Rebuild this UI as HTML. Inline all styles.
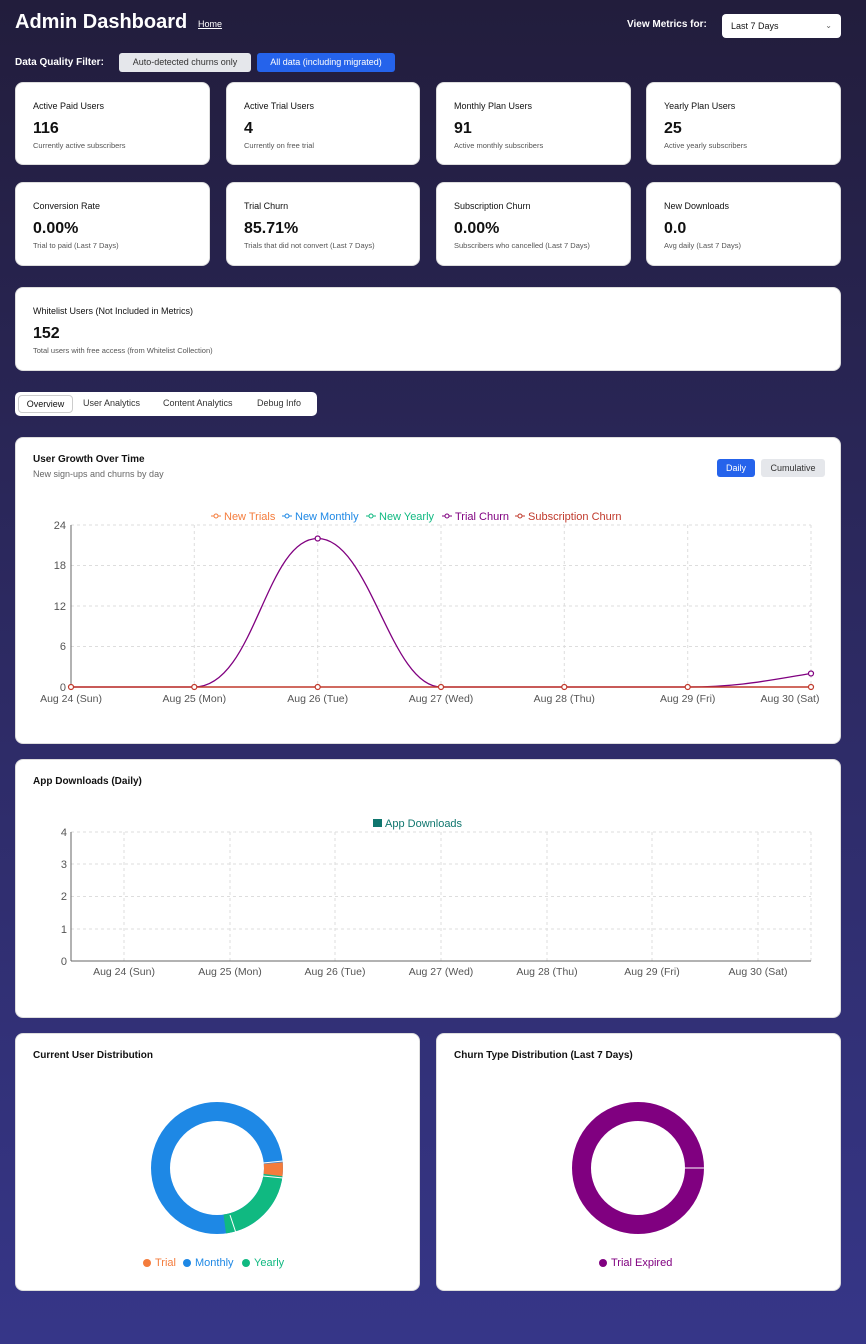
<!DOCTYPE html>
<html><head><style>
*{box-sizing:border-box;margin:0;padding:0}
body{width:866px;height:1344px;background:linear-gradient(#221d3c,#2c2960 45%,#363688);font-family:"Liberation Sans",sans-serif;position:relative;overflow:hidden;color:#111}
.a{position:absolute}
.card{position:absolute;background:#fff;border-radius:8px;border:1px solid #ddd}
.t{font-size:9px;position:absolute;left:17px;top:18px}
.v{font-size:16px;font-weight:bold;position:absolute;left:17px;top:37px}
.s{font-size:7.5px;color:#555;position:absolute;left:17px;top:58px}
.h{font-size:10px;font-weight:bold;position:absolute;left:17px;top:16px}
</style></head><body>
<div class="a" style="left:15px;top:11px;font-size:20px;font-weight:bold;color:#fff">Admin Dashboard</div>
<div class="a" style="left:198px;top:19px;font-size:9px;color:#fff;text-decoration:underline">Home</div>
<div class="a" style="left:627px;top:19px;font-size:10px;color:#fff;font-weight:bold">View Metrics for:</div>
<div class="a" style="left:722px;top:14px;width:119px;height:24px;background:#fff;border-radius:4px;font-size:9px;padding:7px 9px">Last 7 Days<span style="float:right;color:#666;font-size:8px">⌄</span></div>
<div class="a" style="left:15px;top:57px;font-size:10px;color:#fff;font-weight:bold">Data Quality Filter:</div>
<div class="a" style="left:119px;top:53px;width:132px;height:19px;background:#e5e7eb;border-radius:3px;font-size:9px;color:#333;text-align:center;line-height:19px">Auto-detected churns only</div>
<div class="a" style="left:257px;top:53px;width:138px;height:19px;background:#2563eb;border-radius:3px;font-size:9px;color:#fff;text-align:center;line-height:19px">All data (including migrated)</div>

<div class="card" style="left:15px;top:82px;width:195px;height:83px"><div class="t">Active Paid Users</div><div class="v">116</div><div class="s">Currently active subscribers</div></div>
<div class="card" style="left:226px;top:82px;width:194px;height:83px"><div class="t">Active Trial Users</div><div class="v">4</div><div class="s">Currently on free trial</div></div>
<div class="card" style="left:436px;top:82px;width:195px;height:83px"><div class="t">Monthly Plan Users</div><div class="v">91</div><div class="s">Active monthly subscribers</div></div>
<div class="card" style="left:646px;top:82px;width:195px;height:83px"><div class="t">Yearly Plan Users</div><div class="v">25</div><div class="s">Active yearly subscribers</div></div>
<div class="card" style="left:15px;top:182px;width:195px;height:84px"><div class="t">Conversion Rate</div><div class="v">0.00%</div><div class="s">Trial to paid (Last 7 Days)</div></div>
<div class="card" style="left:226px;top:182px;width:194px;height:84px"><div class="t">Trial Churn</div><div class="v">85.71%</div><div class="s">Trials that did not convert (Last 7 Days)</div></div>
<div class="card" style="left:436px;top:182px;width:195px;height:84px"><div class="t">Subscription Churn</div><div class="v">0.00%</div><div class="s">Subscribers who cancelled (Last 7 Days)</div></div>
<div class="card" style="left:646px;top:182px;width:195px;height:84px"><div class="t">New Downloads</div><div class="v">0.0</div><div class="s">Avg daily (Last 7 Days)</div></div>
<div class="card" style="left:15px;top:287px;width:826px;height:84px"><div class="t">Whitelist Users (Not Included in Metrics)</div><div class="v">152</div><div class="s">Total users with free access (from Whitelist Collection)</div></div>

<div class="a" style="left:15px;top:392px;width:302px;height:24px;background:#fff;border-radius:5px;font-size:9px">
<div class="a" style="left:3px;top:3px;width:55px;height:18px;border:1px solid #ccc;border-radius:4px;text-align:center;line-height:16px">Overview</div>
<div class="a" style="left:68px;top:6px;color:#333">User Analytics</div>
<div class="a" style="left:148px;top:6px;color:#333">Content Analytics</div>
<div class="a" style="left:242px;top:6px;color:#333">Debug Info</div></div>

<div class="card" style="left:15px;top:437px;width:826px;height:307px">
<div class="h">User Growth Over Time</div><div class="a" style="left:17px;top:31px;font-size:9px;color:#666">New sign-ups and churns by day</div>
<div class="a" style="left:701px;top:21px;width:38px;height:18px;background:#2563eb;color:#fff;font-size:9px;border-radius:3px;text-align:center;line-height:18px">Daily</div>
<div class="a" style="left:745px;top:21px;width:64px;height:18px;background:#e5e7eb;color:#333;font-size:9px;border-radius:3px;text-align:center;line-height:18px">Cumulative</div>
</div>
<div class="card" style="left:15px;top:759px;width:826px;height:259px"><div class="h">App Downloads (Daily)</div></div>
<div class="card" style="left:15px;top:1033px;width:405px;height:258px"><div class="h">Current User Distribution</div></div>
<div class="card" style="left:436px;top:1033px;width:405px;height:258px"><div class="h">Churn Type Distribution (Last 7 Days)</div></div>

<svg class="a" style="left:0;top:0" width="866" height="1344" font-family="Liberation Sans, sans-serif">
<g stroke="#ddd" stroke-dasharray="3,3" stroke-width="1">
<line x1="71" y1="525" x2="811" y2="525"/><line x1="71" y1="565.5" x2="811" y2="565.5"/><line x1="71" y1="606" x2="811" y2="606"/><line x1="71" y1="646.5" x2="811" y2="646.5"/>
<line x1="194.3" y1="525" x2="194.3" y2="687"/><line x1="317.7" y1="525" x2="317.7" y2="687"/><line x1="441" y1="525" x2="441" y2="687"/><line x1="564.3" y1="525" x2="564.3" y2="687"/><line x1="687.7" y1="525" x2="687.7" y2="687"/><line x1="811" y1="525" x2="811" y2="687"/>
</g>
<line x1="71" y1="525" x2="71" y2="687" stroke="#666"/>
<g font-size="11" fill="#555" text-anchor="end"><text x="66" y="529">24</text><text x="66" y="569">18</text><text x="66" y="610">12</text><text x="66" y="650">6</text><text x="66" y="691">0</text></g>
<g font-size="10.5" fill="#555" text-anchor="middle"><text x="71" y="702">Aug 24 (Sun)</text><text x="194.3" y="702">Aug 25 (Mon)</text><text x="317.7" y="702">Aug 26 (Tue)</text><text x="441" y="702">Aug 27 (Wed)</text><text x="564.3" y="702">Aug 28 (Thu)</text><text x="687.7" y="702">Aug 29 (Fri)</text><text x="790" y="702">Aug 30 (Sat)</text></g>
<path d="M71,687 L194.3,687 C255,687 265,538.5 317.7,538.5 C370,538.5 390,687 441,687 L687.7,687 C740,687 770,680 811,673.5" fill="none" stroke="#800080" stroke-width="1.3"/>
<line x1="71" y1="687" x2="811" y2="687" stroke="#c0392b" stroke-width="1.5"/>
<g fill="#fff" stroke="#c0392b" stroke-width="1.2"><circle cx="71" cy="687" r="2.5"/><circle cx="194.3" cy="687" r="2.5"/><circle cx="317.7" cy="687" r="2.5"/><circle cx="441" cy="687" r="2.5"/><circle cx="564.3" cy="687" r="2.5"/><circle cx="687.7" cy="687" r="2.5"/><circle cx="811" cy="687" r="2.5"/></g>
<g fill="#fff" stroke="#800080" stroke-width="1.2"><circle cx="317.7" cy="538.5" r="2.5"/><circle cx="811" cy="673.5" r="2.5"/></g>
<g font-size="11">
<text x="224" y="520" fill="#f47c3c">New Trials</text><line x1="211" y1="516" x2="221" y2="516" stroke="#f47c3c"/><circle cx="216" cy="516" r="2" fill="#fff" stroke="#f47c3c"/>
<text x="295" y="520" fill="#1e88e5">New Monthly</text><line x1="282" y1="516" x2="292" y2="516" stroke="#1e88e5"/><circle cx="287" cy="516" r="2" fill="#fff" stroke="#1e88e5"/>
<text x="379" y="520" fill="#10b981">New Yearly</text><line x1="366" y1="516" x2="376" y2="516" stroke="#10b981"/><circle cx="371" cy="516" r="2" fill="#fff" stroke="#10b981"/>
<text x="455" y="520" fill="#800080">Trial Churn</text><line x1="442" y1="516" x2="452" y2="516" stroke="#800080"/><circle cx="447" cy="516" r="2" fill="#fff" stroke="#800080"/>
<text x="528" y="520" fill="#c0392b">Subscription Churn</text><line x1="515" y1="516" x2="525" y2="516" stroke="#c0392b"/><circle cx="520" cy="516" r="2" fill="#fff" stroke="#c0392b"/>
</g>

<g stroke="#ddd" stroke-dasharray="3,3">
<line x1="71" y1="832" x2="811" y2="832"/><line x1="71" y1="864" x2="811" y2="864"/><line x1="71" y1="896.5" x2="811" y2="896.5"/><line x1="71" y1="929" x2="811" y2="929"/>
<line x1="124" y1="832" x2="124" y2="961"/><line x1="230" y1="832" x2="230" y2="961"/><line x1="335" y1="832" x2="335" y2="961"/><line x1="441" y1="832" x2="441" y2="961"/><line x1="547" y1="832" x2="547" y2="961"/><line x1="652" y1="832" x2="652" y2="961"/><line x1="758" y1="832" x2="758" y2="961"/><line x1="811" y1="832" x2="811" y2="961"/>
</g>
<line x1="71" y1="832" x2="71" y2="961" stroke="#666"/><line x1="71" y1="961" x2="811" y2="961" stroke="#666"/>
<g font-size="11" fill="#555" text-anchor="end"><text x="67" y="836">4</text><text x="67" y="868">3</text><text x="67" y="900">2</text><text x="67" y="933">1</text><text x="67" y="965">0</text></g>
<g font-size="10.5" fill="#555" text-anchor="middle"><text x="124" y="975">Aug 24 (Sun)</text><text x="230" y="975">Aug 25 (Mon)</text><text x="335" y="975">Aug 26 (Tue)</text><text x="441" y="975">Aug 27 (Wed)</text><text x="547" y="975">Aug 28 (Thu)</text><text x="652" y="975">Aug 29 (Fri)</text><text x="758" y="975">Aug 30 (Sat)</text></g>
<rect x="373" y="819" width="9" height="8" fill="#0f766e"/><text x="385" y="827" font-size="11" fill="#0f766e">App Downloads</text>

<g fill="none" stroke-width="19">
<circle cx="217" cy="1168" r="56.5" stroke="#1e88e5"/>
<circle cx="217" cy="1168" r="56.5" stroke="#10b981" stroke-dasharray="74 400" transform="rotate(7 217 1168)"/>
<circle cx="217" cy="1168" r="56.5" stroke="#f47c3c" stroke-dasharray="12 400" transform="rotate(-5 217 1168)"/>
<circle cx="638" cy="1168" r="56.5" stroke="#800080"/>
</g>
<g stroke="#fff" stroke-width="1"><line x1="263" y1="1163" x2="283" y2="1161"/><line x1="263" y1="1176" x2="283" y2="1178"/><line x1="230" y1="1215" x2="236" y2="1233"/><line x1="685" y1="1168" x2="705" y2="1168"/></g>
<g font-size="11"><circle cx="147" cy="1263" r="4" fill="#f47c3c"/><text x="155" y="1266" fill="#f47c3c">Trial</text>
<circle cx="187" cy="1263" r="4" fill="#1e88e5"/><text x="195" y="1266" fill="#1e88e5">Monthly</text>
<circle cx="246" cy="1263" r="4" fill="#10b981"/><text x="254" y="1266" fill="#10b981">Yearly</text>
<circle cx="603" cy="1263" r="4" fill="#800080"/><text x="611" y="1266" fill="#800080">Trial Expired</text></g>
</svg>
</body></html>
